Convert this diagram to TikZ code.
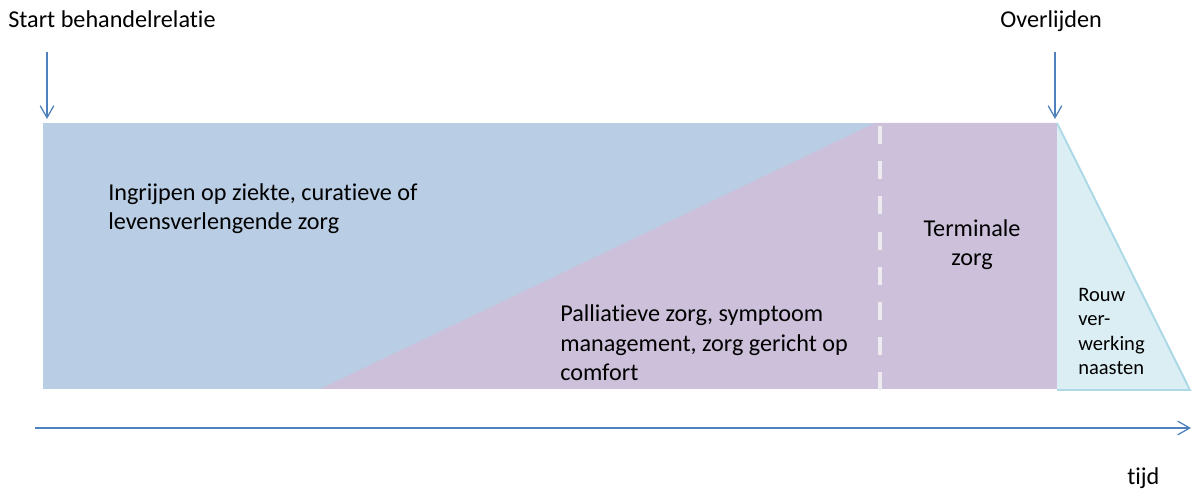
\documentclass[tikz,border=0pt]{standalone}
\usepackage{fontspec}
\setmainfont{Carlito}[Ligatures=NoCommon]
\usetikzlibrary{arrows.meta, positioning}
\definecolor{cureblue}{HTML}{B9CDE5}
\definecolor{palpurple}{HTML}{CCC0DA}
\definecolor{grieffill}{HTML}{DBEEF4}
\definecolor{griefedge}{HTML}{ADD8E6}
\definecolor{timeblue}{HTML}{4F81BD}
\definecolor{dashgrey}{HTML}{EDEAF0}

\begin{document}
\begin{tikzpicture}[
    x=0.025cm, y=-0.025cm,
    >={Straight Barb[length=0.3cm, width=0.34cm]},
    caption/.style={font=\fontsize{17.2}{21}\selectfont, align=left,
                    inner sep=0pt, text=black},
    smallcap/.style={font=\fontsize{14.6}{17.5}\selectfont, align=left,
                     inner sep=0pt, text=black},
    pointer/.style={->, timeblue, line width=0.9pt}
  ]
  \useasboundingbox (0,0) rectangle (1193,490);

  % areas
  \fill[cureblue] (43,123) rectangle (1057,390);
  \fill[palpurple] (318,390) -- (875,123) -- (1057,123) -- (1057,390) -- cycle;
  \fill[grieffill] (1057,123) -- (1190,390) -- (1057,390) -- cycle;
  \draw[griefedge, line width=1.4pt] (1057,123) -- (1190,390) -- (1057,390);
  \draw[white, line width=0.8pt] (43,390) -- (1057,390);
  \draw[dashgrey, line width=2.5pt, dash pattern=on 0.45cm off 0.43cm]
    (880,126) -- (880,392);

  % labels (base = baseline of the last line)
  \node[caption, anchor=base west] (start) at (8,28) {Start behandelrelatie};
  \node[caption, anchor=base west] (death) at (1000,28) {Overlijden};
  \node[caption, anchor=base west] (cure) at (108,230)
    {Ingrijpen op ziekte, curatieve of\\levensverlengende zorg};
  \node[caption, anchor=base west] (palli) at (560,381)
    {Palliatieve zorg, symptoom\\management, zorg gericht op\\comfort};
  \node[caption, align=center, anchor=base] (term) at (972,266)
    {Terminale\\zorg};
  \node[smallcap, anchor=base west] (grief) at (1078,375)
    {Rouw\\ver-\\werking\\naasten};
  \node[caption, anchor=base west] (time) at (1127,485) {tijd};

  % arrows
  \coordinate (startTop) at (47,52);
  \coordinate (startEnd) at (47,119);
  \coordinate (deathTop) at (1055,52);
  \coordinate (deathEnd) at (1055,119);
  \coordinate (axisL) at (35,428);
  \coordinate (axisR) at (1191,428);
  \draw[pointer] (startTop) -- (startEnd);
  \draw[pointer] (deathTop) -- (deathEnd);
  \draw[pointer] (axisL) -- (axisR);
\end{tikzpicture}
\end{document}
